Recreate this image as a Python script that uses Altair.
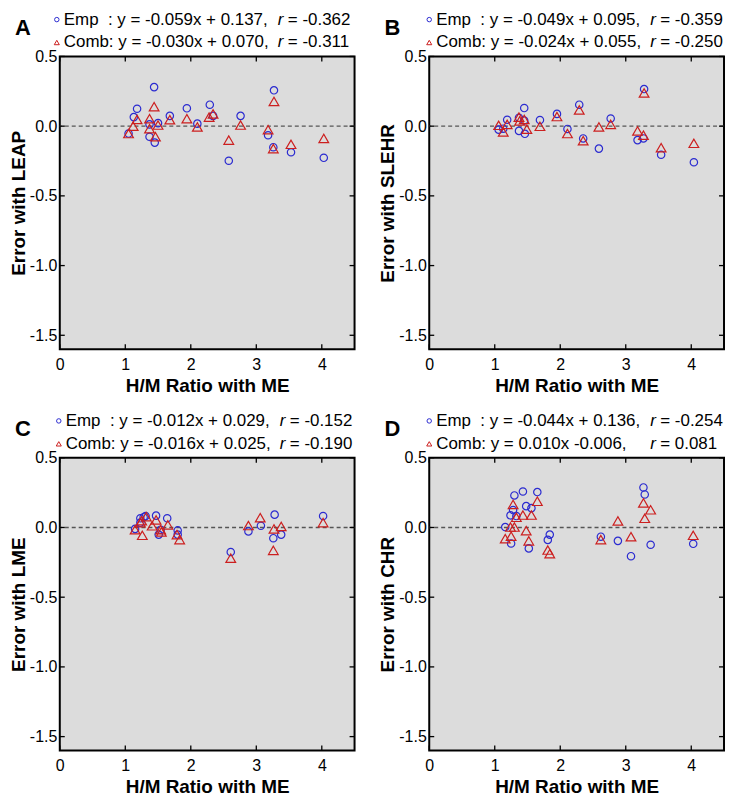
import altair as alt
import pandas as pd

# ---------------- data ----------------
a_emp_x = [1.44, 1.18, 1.13, 1.37, 1.50, 1.37, 1.45, 1.05, 1.68, 1.94, 2.10, 2.29, 2.34, 2.76, 2.58, 3.27, 3.18, 3.26, 3.53, 4.03]
a_emp_y = [0.280, 0.125, 0.065, 0.013, 0.022, -0.076, -0.118, -0.053, 0.074, 0.128, 0.018, 0.154, 0.074, 0.074, -0.248, 0.257, -0.065, -0.151, -0.187, -0.227]
a_comb_x = [1.44, 1.18, 1.12, 1.05, 1.37, 1.37, 1.46, 1.50, 1.68, 1.94, 2.10, 2.28, 2.34, 2.76, 2.58, 3.27, 3.18, 3.26, 3.53, 4.03]
a_comb_y = [0.140, 0.048, 0.000, -0.053, 0.053, -0.018, -0.076, 0.008, 0.046, 0.053, -0.006, 0.065, 0.088, 0.008, -0.100, 0.177, -0.025, -0.161, -0.130, -0.088]

b_emp_x = [3.28, 1.45, 1.19, 1.06, 1.13, 1.37, 1.46, 1.69, 1.95, 2.11, 2.29, 2.35, 2.59, 2.77, 3.18, 3.27, 3.54, 4.04, 1.37, 1.45]
b_emp_y = [0.266, 0.130, 0.046, -0.025, -0.018, -0.034, -0.055, 0.044, 0.088, -0.020, 0.154, -0.088, -0.161, 0.055, -0.100, -0.088, -0.205, -0.259, 0.060, 0.040]
b_comb_x = [3.28, 1.06, 1.13, 1.19, 1.37, 1.45, 1.38, 1.49, 1.69, 1.95, 2.11, 2.29, 2.35, 2.59, 2.77, 3.18, 3.27, 3.54, 4.04]
b_comb_y = [0.238, 0.006, -0.041, 0.013, 0.065, 0.048, 0.037, -0.022, -0.001, 0.069, -0.053, 0.116, -0.104, -0.006, 0.013, -0.034, -0.065, -0.154, -0.123]

c_emp_x = [1.23, 1.31, 1.47, 1.64, 1.23, 1.28, 1.51, 1.80, 1.80, 1.54, 2.61, 2.88, 3.07, 3.28, 3.26, 3.38, 4.02, 1.15]
c_emp_y = [0.066, 0.082, 0.085, 0.066, 0.035, 0.073, -0.051, -0.021, -0.051, -0.016, -0.176, -0.028, 0.012, 0.092, -0.077, -0.051, 0.082, -0.010]
c_comb_x = [1.15, 1.23, 1.25, 1.32, 1.26, 1.41, 1.47, 1.54, 1.55, 1.65, 1.79, 1.83, 2.61, 2.88, 3.06, 3.27, 3.38, 3.26, 4.02]
c_comb_y = [-0.016, 0.035, 0.049, 0.077, -0.056, 0.012, 0.054, -0.016, -0.032, 0.019, -0.051, -0.087, -0.220, 0.014, 0.070, -0.011, 0.007, -0.164, 0.035]

d_emp_x = [1.30, 1.43, 1.65, 1.48, 1.56, 1.28, 1.24, 1.33, 1.16, 1.25, 1.52, 1.84, 1.81, 2.62, 2.88, 3.08, 3.27, 3.29, 3.38, 4.03]
d_emp_y = [0.230, 0.258, 0.254, 0.153, 0.139, 0.125, 0.087, 0.082, 0.003, -0.115, -0.150, -0.051, -0.089, -0.066, -0.096, -0.206, 0.287, 0.237, -0.124, -0.117]
d_comb_x = [1.28, 1.65, 1.33, 1.43, 1.56, 1.24, 1.30, 1.25, 1.16, 1.48, 1.52, 1.81, 1.84, 2.62, 2.88, 3.08, 3.27, 3.38, 3.29, 4.03]
d_comb_y = [0.165, 0.188, 0.073, 0.089, 0.089, 0.003, 0.003, -0.063, -0.080, -0.023, -0.096, -0.162, -0.188, -0.087, 0.047, -0.066, 0.176, 0.127, 0.066, -0.056]

panel_letters = ["A", "B", "C", "D"]
y_titles = ["Error with LEAP", "Error with SLEHR", "Error with LME", "Error with CHR"]
NB = "\u00a0"
emp_eq = ["Emp" + NB * 2 + ": y = -0.059x + 0.137,", "Emp" + NB * 2 + ": y = -0.049x + 0.095,",
          "Emp" + NB * 2 + ": y = -0.012x + 0.029,", "Emp" + NB * 2 + ": y = -0.044x + 0.136,"]
comb_eq = ["Comb: y = -0.030x + 0.070,", "Comb: y = -0.024x + 0.055,",
           "Comb: y = -0.016x + 0.025,", "Comb: y = 0.010x -0.006,"]
emp_r = ["= -0.362", "= -0.359", "= -0.152", "= -0.254"]
comb_r = ["= -0.311", "= -0.250", "= -0.190", "= 0.081"]
x_title = "H/M Ratio with ME"
x_ticks = [0, 1, 2, 3, 4]
y_ticks = [-1.5, -1.0, -0.5, 0.0, 0.5]

# ---------------- style ----------------
W, H = 296, 294
BLUE = "#2b2bd0"
RED = "#cc1f1f"
FONT = "Liberation Sans"
TXT = 17
Y_EMP, Y_COMB = -37, -14

xs = alt.Scale(domain=[0, 4.5], nice=False, zero=False)
ys = alt.Scale(domain=[-1.6, 0.5], nice=False, zero=False)


def panel(i, ex, ey, cx, cy, dx):
    emp = pd.DataFrame({"x": ex, "y": ey})
    comb = pd.DataFrame({"x": cx, "y": cy})
    xt = pd.DataFrame({"x": x_ticks})
    yt = pd.DataFrame({"y": y_ticks})

    x_axis = alt.Axis(values=x_ticks, title=x_title, labelFlush=False, format="d",
                      labelPadding=7, titlePadding=4)
    y_axis = alt.Axis(values=y_ticks, labelExpr="replace(format(datum.value, '.1f'), '\u2212', '-')",
                      labelPadding=3, titlePadding=1, title=y_titles[i])
    X = alt.X("x:Q", scale=xs, axis=x_axis)
    Y = alt.Y("y:Q", scale=ys, axis=y_axis)

    zero = alt.Chart(pd.DataFrame({"y": [0.0]})).mark_rule(
        color="#555555", strokeDash=[4, 3], strokeWidth=1.3
    ).encode(y=Y)

    tb = alt.Chart(xt).mark_rule(color="black", strokeWidth=1.3).encode(
        x=X, y=alt.value(H), y2=alt.value(H - 5))
    tt = alt.Chart(xt).mark_rule(color="black", strokeWidth=1.3).encode(
        x=X, y=alt.value(0), y2=alt.value(5))
    tl = alt.Chart(yt).mark_rule(color="black", strokeWidth=1.3).encode(
        y=Y, x=alt.value(0), x2=alt.value(5))
    tr = alt.Chart(yt).mark_rule(color="black", strokeWidth=1.3).encode(
        y=Y, x=alt.value(W), x2=alt.value(W - 5))

    circ = alt.Chart(emp).mark_point(shape="circle", filled=False, color=BLUE,
                                     size=55, strokeWidth=1.2, opacity=1).encode(x=X, y=Y)
    tri = alt.Chart(comb).mark_point(shape="triangle-up", filled=False, color=RED,
                                     size=95, strokeWidth=1.2, opacity=1).encode(x=X, y=Y)

    one = pd.DataFrame({"k": [0]})

    def txt(text, x, y, **kw):
        return alt.Chart(one).mark_text(text=text, font=FONT, fontSize=TXT, align="left",
                                        baseline="middle", color="black", **kw).encode(
            x=alt.value(x), y=alt.value(y))

    letter = alt.Chart(one).mark_text(text=panel_letters[i], font=FONT, fontSize=22,
                                      fontWeight="bold", align="center", baseline="middle",
                                      color="black").encode(x=alt.value(-37), y=alt.value(-29))
    m1 = alt.Chart(one).mark_point(shape="circle", filled=False, color=BLUE, size=20,
                                   strokeWidth=1, opacity=1).encode(x=alt.value(-3 + dx), y=alt.value(Y_EMP))
    m2 = alt.Chart(one).mark_point(shape="triangle-up", filled=False, color=RED, size=26,
                                   strokeWidth=1, opacity=1).encode(x=alt.value(-3 + dx), y=alt.value(Y_COMB))
    t1 = txt(emp_eq[i], 4 + dx, Y_EMP)
    t2 = txt(comb_eq[i], 4 + dx, Y_COMB)
    r1 = txt("r", 219 + dx, Y_EMP, fontStyle="italic")
    r2 = txt("r", 219 + dx, Y_COMB, fontStyle="italic")
    v1 = txt(emp_r[i], 229 + dx, Y_EMP)
    v2 = txt(comb_r[i], 229 + dx, Y_COMB)

    return alt.layer(zero, tb, tt, tl, tr, circ, tri, letter, m1, m2, t1, t2, r1, r2,
                     v1, v2).properties(width=W, height=H)


pa = panel(0, a_emp_x, a_emp_y, a_comb_x, a_comb_y, 0)
pb = panel(1, b_emp_x, b_emp_y, b_comb_x, b_comb_y, 3)
pc = panel(2, c_emp_x, c_emp_y, c_comb_x, c_comb_y, 2)
pd_ = panel(3, d_emp_x, d_emp_y, d_comb_x, d_comb_y, 3)

chart = alt.vconcat(
    alt.hconcat(pa, pb, spacing=21),
    alt.hconcat(pc, pd_, spacing=21),
    spacing=15,
).properties(
    padding={"left": 0, "top": 0, "right": 0, "bottom": 0},
    background="white",
).configure_view(
    fill="#dcdcdc", stroke="black", strokeWidth=2
).configure_axis(
    labelFont=FONT, labelFontSize=16, labelColor="black",
    titleFont=FONT, titleFontSize=19, titleFontWeight="bold", titleColor="black",
    ticks=False, domain=False, grid=False
)

chart.save("out.html", embed_options={"renderer": "svg", "actions": False})
